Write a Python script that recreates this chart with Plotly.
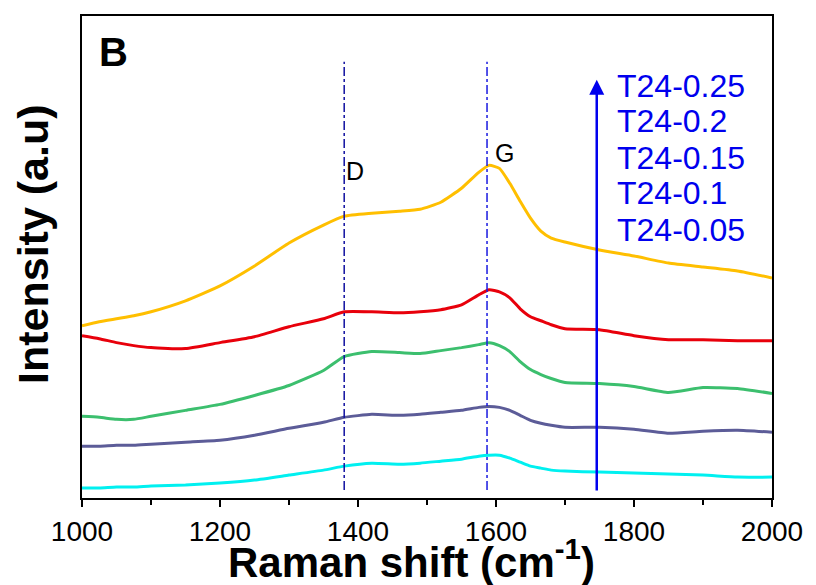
import plotly.graph_objects as go

wavenumber = [1000, 1025, 1050, 1075, 1100, 1150, 1200, 1250, 1300, 1350, 1380, 1420, 1460,
              1490, 1520, 1550, 1575, 1590, 1605, 1620, 1635, 1650, 1665, 1680, 1700,
              1750, 1800, 1850, 1900, 1950, 2000]

# intensities (a.u.)
t24_025 = [173, 177, 180, 183, 187, 198, 213, 233, 256, 274, 283, 286, 288,
           290, 297, 311, 327, 334, 331, 316, 298, 281, 268, 261, 257,
           249, 243, 236, 232, 228, 221]
t24_020 = [163, 160, 156, 153, 151, 150, 156, 162, 172, 180, 187, 187, 186,
           187, 189, 194, 204, 209, 207, 201, 190, 182, 178, 174, 170,
           169, 163, 159, 159, 158, 158]
t24_015 = [82, 81, 79, 79, 82, 88, 94, 103, 113, 128, 142, 147, 146,
           145, 148, 151, 154, 156, 153, 147, 137, 129, 124, 120, 116,
           115, 112, 106, 111, 110, 105]
t24_010 = [52, 52, 53, 53, 54, 56, 58, 63, 70, 76, 81, 84, 83,
           84, 86, 88, 91, 92, 91, 88, 83, 78, 75, 73, 71,
           71, 69, 65, 67, 68, 66]
t24_005 = [10, 10, 11, 11, 12, 13, 15, 18, 23, 28, 32, 35, 34,
           35, 37, 39, 42, 43, 43, 40, 36, 32, 30, 28, 27,
           26, 25, 24, 23, 21, 21]

series_names = ["T24-0.05", "T24-0.1", "T24-0.15", "T24-0.2", "T24-0.25"]
series_values = [t24_005, t24_010, t24_015, t24_020, t24_025]
series_colors = ["#00f0f0", "#5c5c98", "#3cbf6e", "#e8000b", "#ffbf00"]

d_band = 1380
g_band = 1587
arrow_x = 1746
x_ticks = [1000, 1200, 1400, 1600, 1800, 2000]

FONT = "Arial, Liberation Sans, sans-serif"

fig = go.Figure()
for name, vals, col in zip(series_names, series_values, series_colors):
    fig.add_trace(go.Scatter(x=wavenumber, y=vals, mode="lines", name=name,
                             line=dict(color=col, width=3, shape="spline", smoothing=0.5),
                             showlegend=False))

for xv, col in [(d_band, "#1010a0"), (g_band, "#1a1ae0")]:
    fig.add_shape(type="line", x0=xv, x1=xv, y0=8, y1=438, xref="x", yref="y",
                  line=dict(color=col, width=1.5, dash="dashdot"))

# arrow
fig.add_annotation(x=arrow_x, y=420, ax=arrow_x, ay=6, xref="x", yref="y", axref="x", ayref="y",
                   showarrow=True, arrowhead=2, arrowsize=1.2, arrowwidth=2.5, arrowcolor="#0000ee", text="")

# series labels
label_y = [269, 306, 341, 379, 414]
for name, yv in zip(series_names, label_y):
    fig.add_annotation(x=1772, y=yv, xref="x", yref="y", text=name, showarrow=False,
                       xanchor="left", yanchor="middle",
                       font=dict(family=FONT, size=32, color="#0000ee"))

fig.add_annotation(x=1396, y=328, xref="x", yref="y", text="D", showarrow=False,
                   font=dict(family=FONT, size=25, color="black"))
fig.add_annotation(x=1613, y=346, xref="x", yref="y", text="G", showarrow=False,
                   font=dict(family=FONT, size=25, color="black"))
fig.add_annotation(x=1046, y=448, xref="x", yref="y", text="<b>B</b>", showarrow=False,
                   font=dict(family=FONT, size=40, color="black"))

# axis titles
fig.add_annotation(x=0.478, y=-0.127, xref="paper", yref="paper",
                   text="<b>Raman shift (cm<sup>-1</sup>)</b>", showarrow=False,
                   xanchor="center", yanchor="middle",
                   font=dict(family=FONT, size=42, color="black"))
fig.add_annotation(x=-0.071, y=0.527, xref="paper", yref="paper",
                   text="<b>Intensity (a.u)</b>", showarrow=False, textangle=-90,
                   xanchor="center", yanchor="middle",
                   font=dict(family=FONT, size=43, color="black"))

fig.update_layout(
    width=808, height=577,
    margin=dict(l=74, r=44, t=6, b=87),
    paper_bgcolor="white", plot_bgcolor="white",
    xaxis=dict(range=[1000, 2000], tickvals=x_ticks, ticks="outside", ticklen=7, tickwidth=2,
               tickcolor="black", showline=True, linecolor="black", linewidth=2, mirror=True,
               showgrid=False, zeroline=False,
               minor=dict(dtick=100, ticks="outside", ticklen=5, tickwidth=2, tickcolor="black"),
               tickfont=dict(family=FONT, size=28, color="black")),
    yaxis=dict(range=[0, 484], showticklabels=False, ticks="", showline=True, linecolor="black",
               linewidth=2, mirror=True, showgrid=False, zeroline=False),
)

fig.write_html("out.html")
